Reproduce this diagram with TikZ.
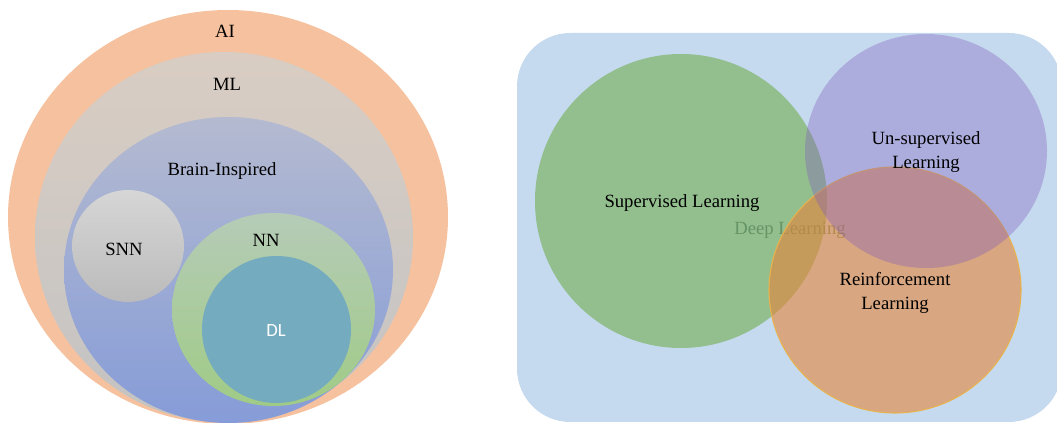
\documentclass[tikz,border=0pt]{standalone}
\usepackage{fontspec}
\setmainfont{Liberation Serif}
\newfontfamily\dlfont{Carlito}
\definecolor{aiorange}{HTML}{F5C19E}
\definecolor{mltop}{HTML}{D9CDC3}
\definecolor{mlbot}{HTML}{C3C3C3}
\definecolor{bitop}{HTML}{B4BAD0}
\definecolor{bibot}{HTML}{869CD8}
\definecolor{snntop}{HTML}{D6D6D6}
\definecolor{snnbot}{HTML}{BBBBBB}
\definecolor{nntop}{HTML}{B5CBB7}
\definecolor{nnbot}{HTML}{A0CB86}
\definecolor{dlteal}{HTML}{74ABBE}
\definecolor{panelblue}{HTML}{C5DAEF}
\definecolor{suplgreen}{HTML}{93BF8E}
\definecolor{unsuppurple}{HTML}{805BBD}
\definecolor{reinforange}{HTML}{E58439}
\definecolor{reinfedge}{HTML}{E8B24E}
\definecolor{deepgreen}{HTML}{669466}
\tikzset{
  lbl/.style={font=\fontsize{14}{17.5}\selectfont, text=black, inner sep=0pt, align=center},
}
\begin{document}
\begin{tikzpicture}[x=0.75pt,y=-0.75pt]
\useasboundingbox (0,0) rectangle (1057,423);
\clip (0,0) rectangle (1057,423);

% nested sets on the left
\fill[aiorange] (228,217) ellipse [x radius=220, y radius=207];
\shade[top color=mltop, bottom color=mlbot] (224,237) ellipse [x radius=189, y radius=185];
\shade[top color=bitop, bottom color=bibot] (228.5,270) ellipse [x radius=164.5, y radius=153];
\shade[top color=snntop, bottom color=snnbot] (128,246) circle [radius=56];
\shade[top color=nntop, bottom color=nnbot] (273.5,309.5) ellipse [x radius=101.5, y radius=96.5];
\fill[dlteal] (276.5,329.5) ellipse [x radius=74.5, y radius=73.5];

\node[lbl] (ai) at (225,31) {AI};
\node[lbl] (ml) at (227,84) {ML};
\node[lbl] (bi) at (222,171) {Brain-Inspired};
\node[lbl] (snn) at (124,249) {SNN};
\node[lbl] (nn) at (266,240) {NN};
\node[lbl, text=white, font=\dlfont\fontsize{14}{17}\selectfont] (dl) at (276,331) {DL};

% learning paradigms on the right
\fill[panelblue, rounded corners=40pt] (517,33) rectangle (1062,422);
\fill[suplgreen] (681,201) ellipse [x radius=146, y radius=147];
\node[lbl, text=deepgreen] (deep) at (790,230) {Deep Learning};
\filldraw[fill=reinforange, fill opacity=0.6, draw=reinfedge, line width=0.8pt]
  (895,290) ellipse [x radius=126, y radius=123];
\fill[unsuppurple, fill opacity=0.35] (926,151) ellipse [x radius=121, y radius=117];

\node[lbl] (sup) at (682,203) {Supervised Learning};
\node[lbl] (unsup) at (926,152) {Un-supervised\\Learning};
\node[lbl] (reinf) at (895,293) {Reinforcement\\Learning};
\end{tikzpicture}
\end{document}
